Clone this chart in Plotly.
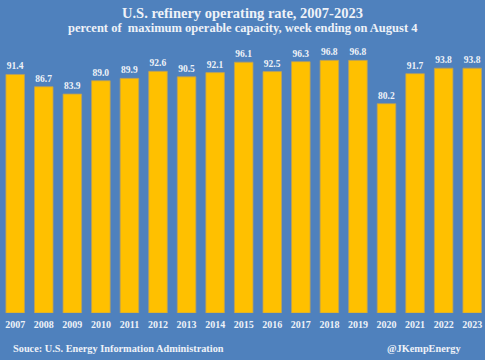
import plotly.graph_objects as go

years = ["2007","2008","2009","2010","2011","2012","2013","2014","2015",
         "2016","2017","2018","2019","2020","2021","2022","2023"]
rates = [91.4, 86.7, 83.9, 89.0, 89.9, 92.6, 90.5, 92.1, 96.1,
         92.5, 96.3, 96.8, 96.8, 80.2, 91.7, 93.8, 93.8]
labels = [f"<b>{v:.1f}</b>" for v in rates]
ticktext = [f"<b>{y}</b>" for y in years]

BG = "#4F81BD"
FONT = "Liberation Serif"
TXT = "#EEF2F8"

fig = go.Figure(go.Bar(
    x=list(range(len(years))), y=rates,
    marker=dict(color="#FFC000", line=dict(color="#B8A060", width=0.8)),
    text=labels, textposition="outside", cliponaxis=False,
    textfont=dict(family=FONT, size=9.5, color=TXT),
    hoverinfo="skip",
))

W, H = 485, 360
l, r, t, b = 0, 0, 52, 47

fig.update_layout(
    width=W, height=H,
    paper_bgcolor=BG, plot_bgcolor=BG,
    margin=dict(l=l, r=r, t=t, b=b),
    bargap=0.35,
    showlegend=False,
    font=dict(family=FONT, color=TXT),
    xaxis=dict(
        tickmode="array", tickvals=list(range(len(years))), ticktext=ticktext,
        range=[-0.532, 16.448], showgrid=False, zeroline=False, showline=False,
        tickfont=dict(family=FONT, size=10, color=TXT), ticks="",
        ticklabelstandoff=4,
    ),
    yaxis=dict(range=[0, 100], visible=False),
)

pw, ph = W - l - r, H - t - b
def py(v):
    return (H - b - v) / ph
def px(v):
    return (v - l) / pw

fig.add_annotation(text="<b>U.S. refinery operating rate, 2007-2023</b>",
                   x=0.5, y=py(12.5), xref="paper", yref="paper", yanchor="middle",
                   showarrow=False, font=dict(family=FONT, size=14.5, color=TXT))
fig.add_annotation(text="<b>percent of  maximum operable capacity, week ending on August 4</b>",
                   x=0.5, y=py(28.5), xref="paper", yref="paper", yanchor="middle",
                   showarrow=False, font=dict(family=FONT, size=12.5, color=TXT))
fig.add_annotation(text="<b>Souce: U.S. Energy Information Administration</b>",
                   x=px(11), y=py(348.5), xref="paper", yref="paper", xanchor="left",
                   yanchor="middle", showarrow=False,
                   font=dict(family=FONT, size=10.3, color=TXT))
fig.add_annotation(text="<b>@JKempEnergy</b>",
                   x=px(463), y=py(348.5), xref="paper", yref="paper", xanchor="right",
                   yanchor="middle", showarrow=False,
                   font=dict(family=FONT, size=10.3, color=TXT))

fig.write_html("out.html", config={"displayModeBar": False, "staticPlot": True},
               post_script="document.body.style.margin='0px';document.body.style.overflow='hidden';")
